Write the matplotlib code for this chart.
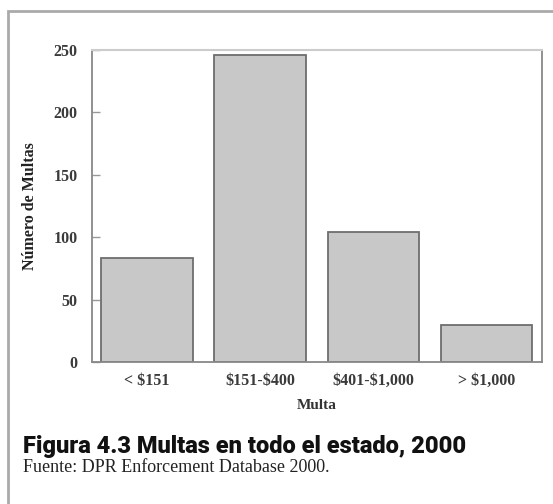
import matplotlib
matplotlib.use("Agg")
import matplotlib.pyplot as plt
from matplotlib.patches import Rectangle

categories = ["< \\$151", "\\$151-\\$400", "\\$401-\\$1,000", "> \\$1,000"]
values = [83, 246, 104, 30]
yticks = [0, 50, 100, 150, 200, 250]

W, H = 553, 504
fig = plt.figure(figsize=(W / 100, H / 100), dpi=100)
fig.patch.set_facecolor("white")

# outer frame
fig.add_artist(Rectangle((8 / W, -0.05), 1.2, (H - 11) / H + 0.05, transform=fig.transFigure,
                         fill=False, edgecolor="#aaaaaa", linewidth=2.0))

ax = fig.add_axes([91.7 / W, 1 - 362 / H, (542 - 91.7) / W, (362 - 50) / H])
x = list(range(len(categories)))
ax.bar(x, values, width=0.81, color="#c8c8c8", edgecolor="#6e6e6e", linewidth=1.3, zorder=2)
ax.set_xlim(-0.49, 3.49)
ax.set_ylim(0, 250)
ax.set_yticks(yticks)
ax.set_xticks(x)
ax.set_xticklabels(categories)

serif = ["Liberation Serif", "DejaVu Serif"]
for lab in ax.get_xticklabels() + ax.get_yticklabels():
    lab.set_family(serif)
    lab.set_fontweight("bold")
    lab.set_fontsize(11.5)
    lab.set_color("#3a3a3a")
ax.tick_params(axis="y", direction="in", length=6, width=1, color="#999999", pad=10)
ax.tick_params(axis="x", length=0, pad=8)

for s in ["left", "bottom", "right"]:
    ax.spines[s].set_color("#888888")
    ax.spines[s].set_linewidth(1.3)
ax.spines["top"].set_color("#cccccc")
ax.spines["top"].set_linewidth(1.5)

ax.set_xlabel("Multa", family=serif, fontweight="bold", fontsize=11, color="#333333", labelpad=7)
ax.set_ylabel("Número de Multas", family=serif, fontweight="bold", fontsize=11.5, color="#222222", labelpad=11)

fig.text(23 / W, 1 - 446 / H, "Figura 4.3 Multas en todo el estado, 2000", family=["Roboto", "DejaVu Sans"],
         fontweight=900, fontsize=17, color="#111111", va="center", ha="left")
fig.text(23 / W, 1 - 467 / H, "Fuente: DPR Enforcement Database 2000.", family=serif,
         fontsize=13, color="#222222", va="center", ha="left")

fig.savefig("out.png", dpi=100, facecolor="white")
